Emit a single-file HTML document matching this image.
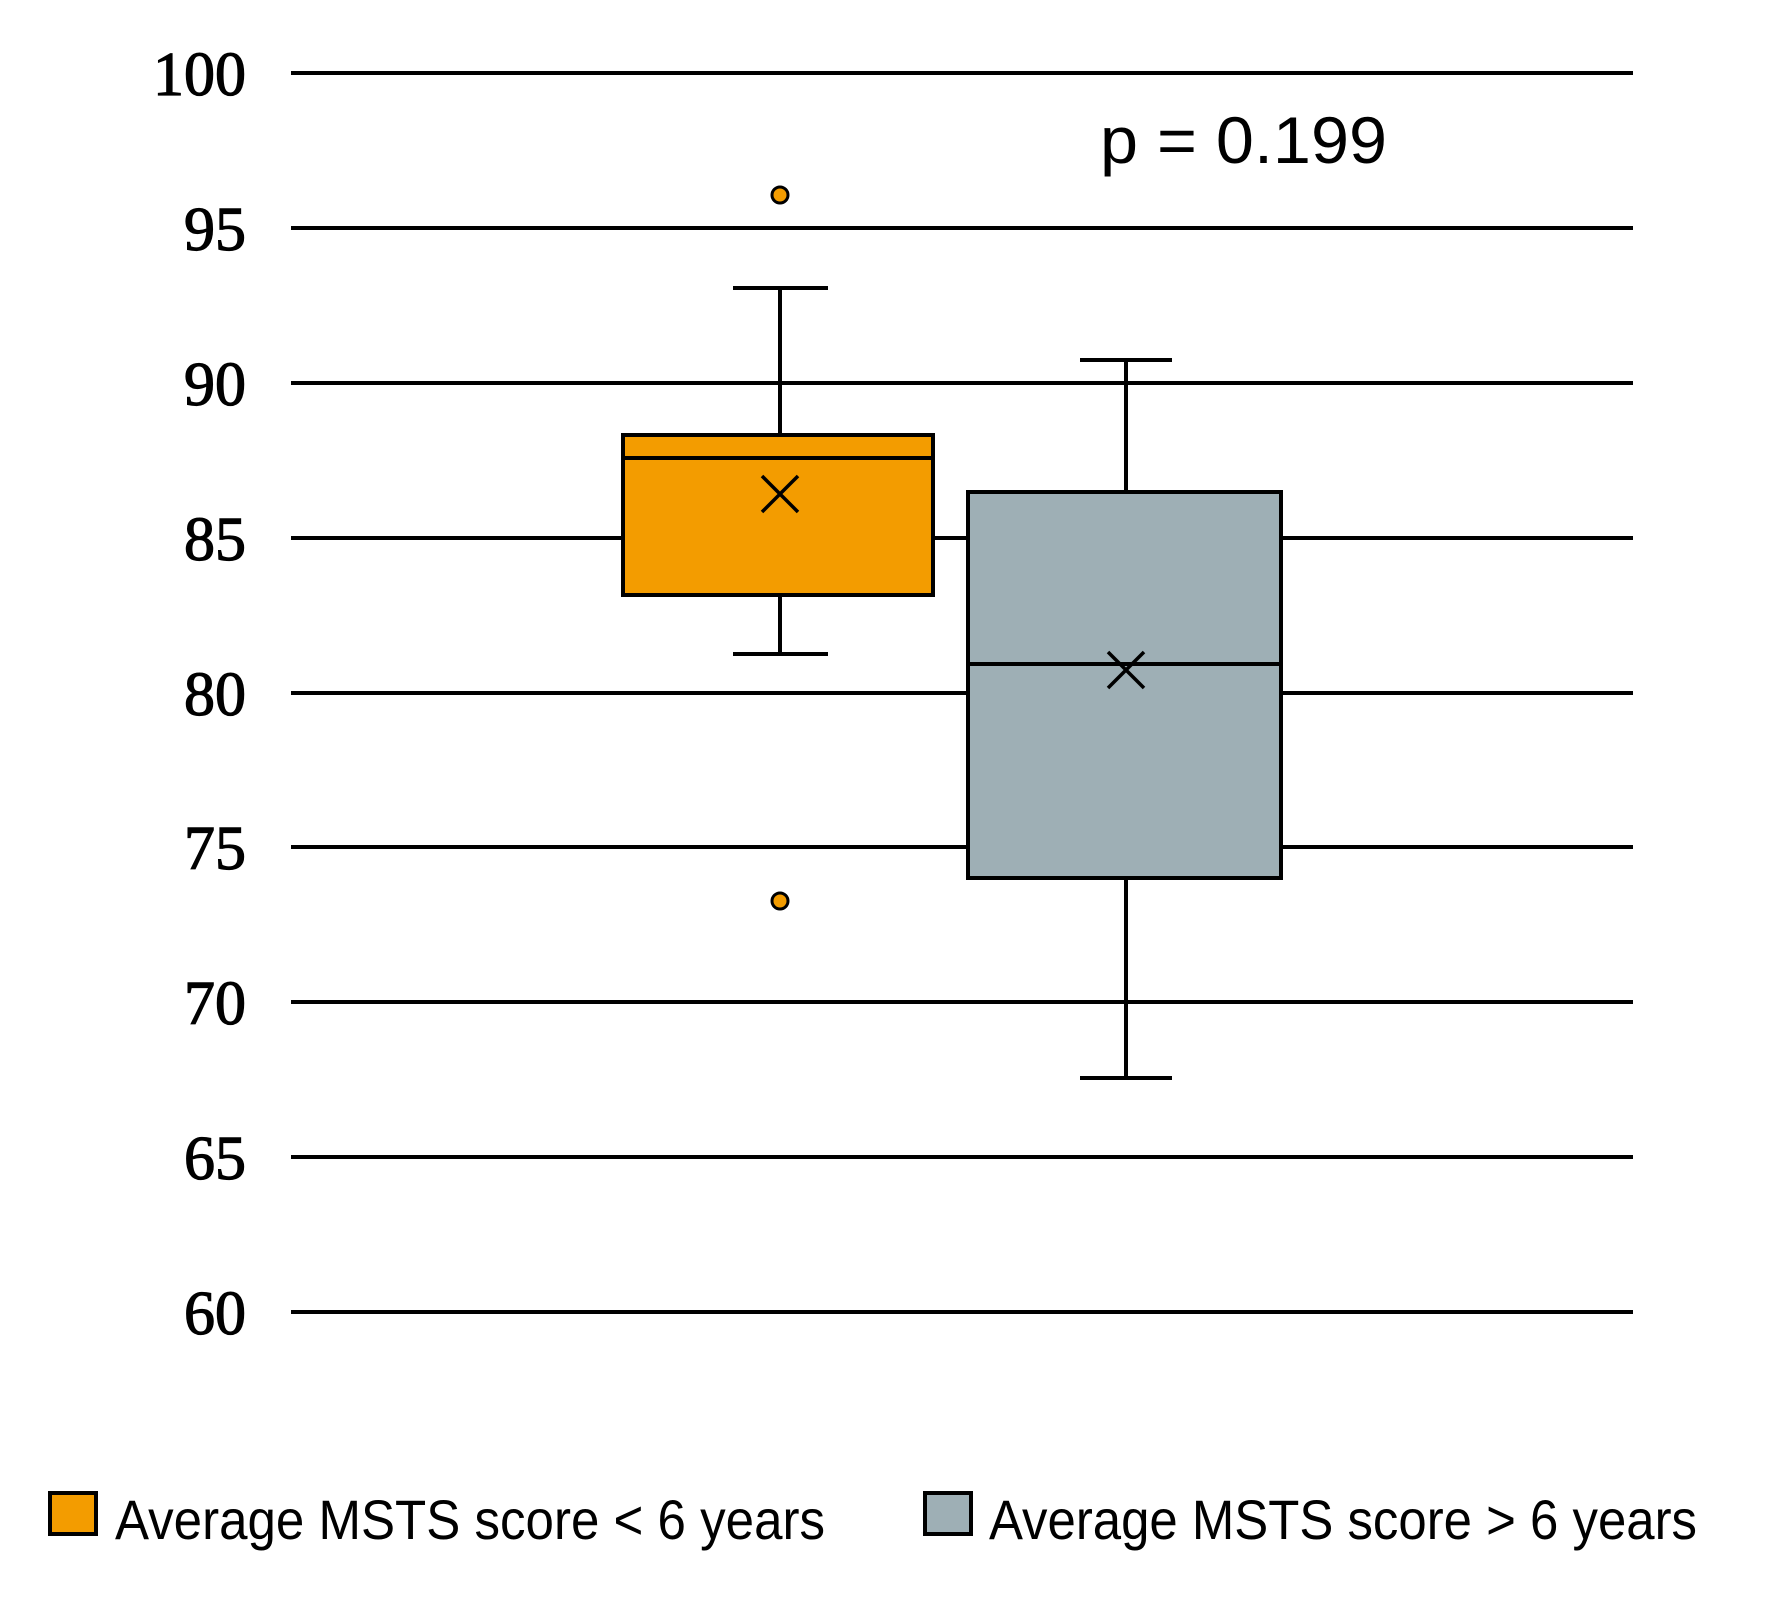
<!DOCTYPE html>
<html><head><meta charset="utf-8"><style>html,body{margin:0;padding:0;background:#fff}</style></head>
<body>
<svg width="1789" height="1597" viewBox="0 0 1789 1597" xmlns="http://www.w3.org/2000/svg">
<g stroke="#000" stroke-width="4">
<line x1="291" x2="1633" y1="73" y2="73"/>
<line x1="291" x2="1633" y1="228" y2="228"/>
<line x1="291" x2="1633" y1="383" y2="383"/>
<line x1="291" x2="1633" y1="538" y2="538"/>
<line x1="291" x2="1633" y1="693" y2="693"/>
<line x1="291" x2="1633" y1="847" y2="847"/>
<line x1="291" x2="1633" y1="1002" y2="1002"/>
<line x1="291" x2="1633" y1="1157" y2="1157"/>
<line x1="291" x2="1633" y1="1312" y2="1312"/>
</g>
<g font-family="Liberation Serif, serif" font-size="62" text-anchor="end" fill="#000" stroke="#000" stroke-width="1.2">
<text x="246" y="95">100</text>
<text x="246" y="250">95</text>
<text x="246" y="405">90</text>
<text x="246" y="560">85</text>
<text x="246" y="715">80</text>
<text x="246" y="869">75</text>
<text x="246" y="1024">70</text>
<text x="246" y="1179">65</text>
<text x="246" y="1334">60</text>
</g>
<g stroke="#000" stroke-width="4">
<line x1="780" x2="780" y1="288" y2="435"/>
<line x1="733" x2="828" y1="288" y2="288"/>
<line x1="780" x2="780" y1="595" y2="654"/>
<line x1="733" x2="828" y1="654" y2="654"/>
<rect x="623" y="435" width="310" height="160" fill="#f39c00"/>
<line x1="623" x2="933" y1="458" y2="458"/>
<line x1="762" x2="798" y1="476" y2="512" stroke-width="3.5"/>
<line x1="798" x2="762" y1="476" y2="512" stroke-width="3.5"/>
<circle cx="780" cy="195" r="8" fill="#f39c00" stroke-width="3"/>
<circle cx="780" cy="901" r="8" fill="#f39c00" stroke-width="3"/>
<line x1="1126" x2="1126" y1="360" y2="492"/>
<line x1="1080" x2="1172" y1="360" y2="360"/>
<line x1="1126" x2="1126" y1="878" y2="1078"/>
<line x1="1080" x2="1172" y1="1078" y2="1078"/>
<rect x="968" y="492" width="313" height="386" fill="#9eafb5"/>
<line x1="968" x2="1281" y1="664" y2="664"/>
<line x1="1108" x2="1144" y1="652" y2="688" stroke-width="3.5"/>
<line x1="1144" x2="1108" y1="652" y2="688" stroke-width="3.5"/>
</g>
<text x="1100" y="163" font-family="Liberation Sans, sans-serif" font-size="66" textLength="287" lengthAdjust="spacingAndGlyphs">p = 0.199</text>
<rect x="50" y="1493" width="46" height="41" fill="#f39c00" stroke="#000" stroke-width="4"/>
<rect x="925" y="1493" width="46" height="41" fill="#9eafb5" stroke="#000" stroke-width="4"/>
<g font-family="Liberation Sans, sans-serif" font-size="56" fill="#000">
<text x="115" y="1539" textLength="710" lengthAdjust="spacingAndGlyphs">Average MSTS score &lt; 6 years</text>
<text x="989" y="1539" textLength="708" lengthAdjust="spacingAndGlyphs">Average MSTS score &gt; 6 years</text>
</g>
</svg>
</body></html>
